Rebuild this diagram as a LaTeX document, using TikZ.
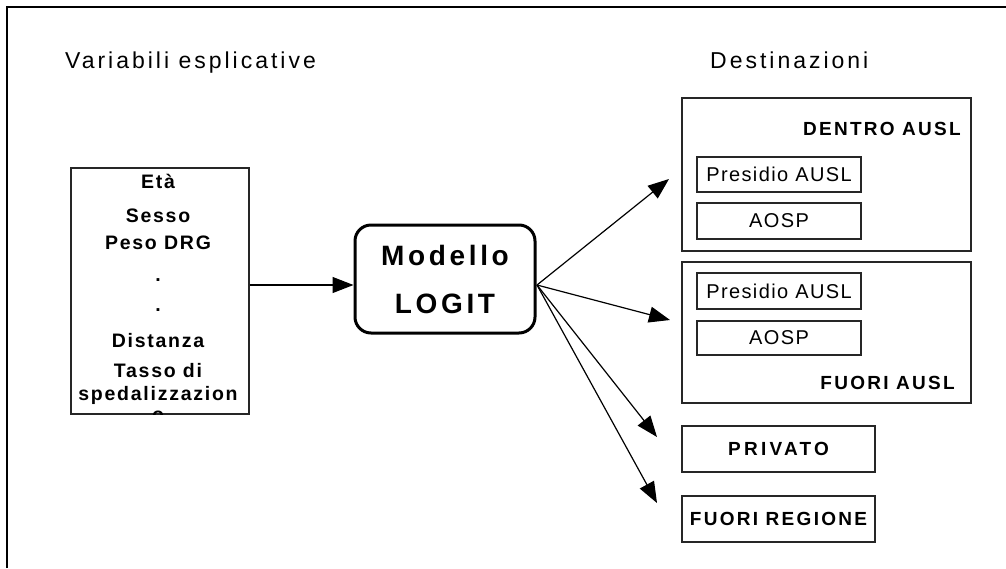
\documentclass[tikz,border=0pt]{standalone}
\usepackage{fontspec}
\setmainfont{Liberation Sans}
\newfontfamily\rgfont[LetterSpace=13]{Liberation Sans}
\newfontfamily\infont[LetterSpace=7]{Liberation Sans}
\newfontfamily\bdfont[LetterSpace=9]{Liberation Sans}
\newfontfamily\lbfont[LetterSpace=12]{Liberation Sans}
\newfontfamily\pvfont[LetterSpace=17]{Liberation Sans}
\newfontfamily\mdfont[LetterSpace=13]{Liberation Sans}
\usetikzlibrary{arrows.meta}
\begin{document}
\begin{tikzpicture}[x=1pt,y=-1pt,
  box/.style={draw=black!85,line width=1.2pt,inner sep=0pt},
  inbox/.style={box,minimum width=164pt,font=\infont\fontsize{20}{23}\selectfont},
  varline/.style={anchor=base,inner sep=0pt,font=\bdfont\bfseries\fontsize{19.5}{22}\selectfont},
  title/.style={anchor=base west,inner sep=0pt,font=\rgfont\fontsize{23}{26}\selectfont},
  blabel/.style={inner sep=0pt,font=\lbfont\bfseries\fontsize{19}{22}\selectfont},
  conn/.style={line width=1.2pt,-{Triangle[length=21pt,width=16pt]}}]
\useasboundingbox (0,0) rectangle (1006,568);
% frame
\draw[line width=2.6pt] (7,568) -- (7,7) -- (1006,7);
% titles
\node[title] (t1) at (65,68) {Variabili esplicative};
\node[title] (t2) at (710,68) {Destinazioni};
% variables box
\node[box,minimum width=178pt,minimum height=246pt] (vars) at (160,291) {};
\begin{scope}
\clip (71,168) rectangle (249,414);
\node[varline] (v1) at (158,188) {Età};
\node[varline] (v2) at (158,222) {Sesso};
\node[varline] (v3) at (158,249) {Peso DRG};
\node[varline] (v4) at (158,281) {.};
\node[varline] (v5) at (158,311) {.};
\node[varline] (v6) at (158,347) {Distanza};
\node[varline] (v7) at (158,377) {Tasso di};
\node[varline] (v8) at (158,400) {spedalizzazion};
\node[varline] (v9) at (158,421) {o};
\end{scope}
% model
\node[draw,line width=3pt,rounded corners=16pt,minimum width=180pt,minimum height=108pt] (m) at (445,279) {};
\node[anchor=base,inner sep=0pt,font=\mdfont\bfseries\fontsize{28}{32}\selectfont] (m1) at (445,265) {Modello};
\node[anchor=base,inner sep=0pt,font=\mdfont\bfseries\fontsize{28}{32}\selectfont] (m2) at (445,313) {LOGIT};
% destinations
\node[box,minimum width=289pt,minimum height=153pt] (dentro) at (826.5,174.5) {};
\node[blabel,anchor=base east] (dl) at (961,135) {DENTRO AUSL};
\node[inbox,minimum height=35pt] (p1) at (779,174.5) {Presidio AUSL};
\node[inbox,minimum height=36pt] (a1) at (779,221) {AOSP};
\node[box,minimum width=289pt,minimum height=141pt] (fuori) at (826.5,332.5) {};
\node[inbox,minimum height=36pt] (p2) at (779,291) {Presidio AUSL};
\node[inbox,minimum height=34pt] (a2) at (779,338) {AOSP};
\node[blabel,anchor=base east] (fl) at (955,389) {FUORI AUSL};
\node[box,blabel,font=\pvfont\bfseries\fontsize{19}{22}\selectfont,minimum width=193pt,minimum height=46pt] (priv) at (778.5,449) {PRIVATO};
\node[box,blabel,minimum width=193pt,minimum height=46pt] (freg) at (778.5,519) {FUORI REGIONE};
% connectors
\coordinate (vs) at (vars.east |- 0,285);
\coordinate (mw) at (m.west |- 0,285);
\coordinate (ms) at (537,285);
\coordinate (e1) at (669,179);
\coordinate (e2) at (670,320);
\coordinate (e3) at (657,437);
\coordinate (e4) at (657,503);
\draw[conn] (vs) -- (mw);
\draw[conn] (ms) -- (e1);
\draw[conn] (ms) -- (e2);
\draw[conn] (ms) -- (e3);
\draw[conn] (ms) -- (e4);
\end{tikzpicture}
\end{document}
